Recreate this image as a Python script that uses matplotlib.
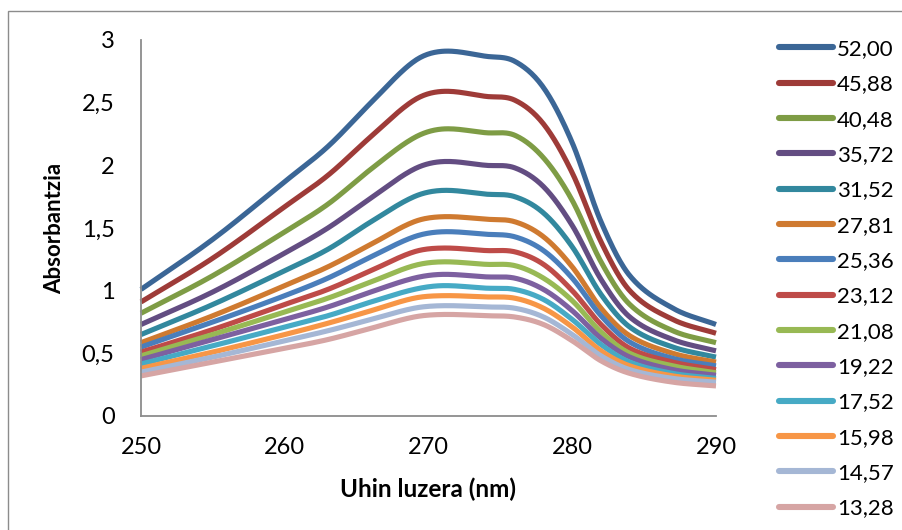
import numpy as np
import matplotlib
matplotlib.use("Agg")
import matplotlib.pyplot as plt
from matplotlib.patches import Rectangle
from matplotlib.ticker import FuncFormatter

plt.rcParams['font.family'] = ['Lato', 'DejaVu Sans']

# Wavelengths (nm) at which absorbance was read
wavelength = [250, 255, 260, 263, 266, 269, 271, 274, 276, 278, 280, 282, 284, 287, 290]

# Series labels (concentration)
labels = ["52,00", "45,88", "40,48", "35,72", "31,52", "27,81", "25,36",
          "23,12", "21,08", "19,22", "17,52", "15,98", "14,57", "13,28"]

s_52_00 = [1.01, 1.41, 1.87, 2.15, 2.50, 2.83, 2.91, 2.87, 2.83, 2.62, 2.18, 1.55, 1.12, 0.86, 0.73]
s_45_88 = [0.91, 1.26, 1.67, 1.92, 2.23, 2.52, 2.59, 2.55, 2.52, 2.33, 1.94, 1.39, 1.00, 0.77, 0.66]
s_40_48 = [0.82, 1.12, 1.47, 1.69, 1.97, 2.22, 2.29, 2.26, 2.24, 2.06, 1.72, 1.23, 0.89, 0.68, 0.585]
s_35_72 = [0.73, 0.99, 1.30, 1.50, 1.74, 1.97, 2.03, 2.00, 1.98, 1.83, 1.52, 1.09, 0.79, 0.61, 0.52]
s_31_52 = [0.65, 0.89, 1.16, 1.33, 1.55, 1.75, 1.80, 1.77, 1.75, 1.62, 1.35, 0.97, 0.71, 0.55, 0.47]
s_27_81 = [0.585, 0.80, 1.04, 1.19, 1.37, 1.55, 1.59, 1.57, 1.55, 1.43, 1.19, 0.86, 0.64, 0.50, 0.43]
s_25_36 = [0.55, 0.75, 0.96, 1.10, 1.27, 1.43, 1.47, 1.45, 1.43, 1.32, 1.10, 0.80, 0.59, 0.46, 0.40]
s_23_12 = [0.51, 0.69, 0.89, 1.01, 1.16, 1.31, 1.34, 1.32, 1.31, 1.21, 1.00, 0.73, 0.54, 0.43, 0.37]
s_21_08 = [0.48, 0.65, 0.83, 0.94, 1.07, 1.20, 1.23, 1.21, 1.20, 1.10, 0.92, 0.67, 0.50, 0.40, 0.345]
s_19_22 = [0.45, 0.61, 0.77, 0.87, 0.99, 1.10, 1.13, 1.11, 1.10, 1.01, 0.84, 0.62, 0.47, 0.37, 0.325]
s_17_52 = [0.415, 0.56, 0.71, 0.80, 0.91, 1.01, 1.04, 1.02, 1.01, 0.93, 0.77, 0.57, 0.43, 0.34, 0.30]
s_15_98 = [0.38, 0.51, 0.65, 0.74, 0.84, 0.94, 0.96, 0.95, 0.94, 0.86, 0.71, 0.52, 0.40, 0.32, 0.285]
s_14_57 = [0.35, 0.47, 0.60, 0.68, 0.77, 0.86, 0.88, 0.87, 0.86, 0.79, 0.65, 0.48, 0.37, 0.30, 0.27]
s_13_28 = [0.32, 0.43, 0.54, 0.61, 0.70, 0.79, 0.81, 0.80, 0.79, 0.73, 0.60, 0.44, 0.34, 0.27, 0.24]

series = [s_52_00, s_45_88, s_40_48, s_35_72, s_31_52, s_27_81, s_25_36,
          s_23_12, s_21_08, s_19_22, s_17_52, s_15_98, s_14_57, s_13_28]

colors = ["#3B6696", "#9E3B38", "#7E9C45", "#634D82", "#32889E", "#CF7A30",
          "#4A7EBB", "#BE4B48", "#98B954", "#7D60A0", "#46AAC5", "#F79646",
          "#A5B7D5", "#D6A5A4"]


def smooth(x, y, n=25):
    """Smoothed line through the points (cubic Hermite, centred slopes)."""
    x = np.asarray(x, float)
    y = np.asarray(y, float)
    m = np.empty_like(y)
    m[1:-1] = (y[2:] - y[:-2]) / (x[2:] - x[:-2])
    m[0] = (y[1] - y[0]) / (x[1] - x[0])
    m[-1] = (y[-1] - y[-2]) / (x[-1] - x[-2])
    xs, ys = [], []
    for i in range(len(x) - 1):
        h = x[i + 1] - x[i]
        t = np.linspace(0, 1, n)
        if i > 0:
            t = t[1:]
        h00 = 2 * t**3 - 3 * t**2 + 1
        h10 = t**3 - 2 * t**2 + t
        h01 = -2 * t**3 + 3 * t**2
        h11 = t**3 - t**2
        xs.append(x[i] + t * h)
        ys.append(h00 * y[i] + h10 * h * m[i] + h01 * y[i + 1] + h11 * h * m[i + 1])
    return np.concatenate(xs), np.concatenate(ys)


fig = plt.figure(figsize=(9.03, 5.30), dpi=100)
fig.patch.set_facecolor("white")

# chart-area border
fig.add_artist(Rectangle((8 / 903, -0.05), 1.2, 1 - 10.5 / 530 + 0.05,
                         transform=fig.transFigure, fill=False,
                         edgecolor="#8C8C8C", linewidth=1.0))

ax = fig.add_axes([141 / 903, 1 - 416 / 530, (716 - 141) / 903, (416 - 40) / 530])

for vals, lab, col in zip(series, labels, colors):
    xs, ys = smooth(wavelength, vals)
    ax.plot(xs, ys, color=col, lw=3.7, label=lab, solid_capstyle="butt",
            clip_on=False)

ax.set_xlim(250, 290)
ax.set_ylim(0, 3)
ax.set_xticks([250, 260, 270, 280, 290])
ax.set_yticks([0, 0.5, 1, 1.5, 2, 2.5, 3])
ax.yaxis.set_major_formatter(FuncFormatter(lambda v, _: f"{v:g}".replace(".", ",")))

for side in ("top", "right"):
    ax.spines[side].set_visible(False)
for side in ("left", "bottom"):
    ax.spines[side].set_color("#8C8C8C")
    ax.spines[side].set_linewidth(1.3)

ax.tick_params(axis="both", length=0, labelsize=17, colors="black")
ax.tick_params(axis="y", pad=19)
ax.tick_params(axis="x", pad=15)

ax.set_xlabel("Uhin luzera (nm)", fontsize=17.5, fontweight="bold", labelpad=14)
ax.set_ylabel("Absorbantzia", fontsize=16, fontweight="bold", labelpad=12)

leg = ax.legend(loc="upper left", bbox_to_anchor=(779 / 903, 1 - 39 / 530),
                bbox_transform=fig.transFigure, frameon=False, fontsize=16,
                handlelength=2.43, handletextpad=0.18, labelspacing=0.69,
                borderaxespad=0, borderpad=0)
for h in leg.get_lines():
    h.set_linewidth(4.4)
    h.set_solid_capstyle("round")

fig.savefig("out.png", dpi=100)
